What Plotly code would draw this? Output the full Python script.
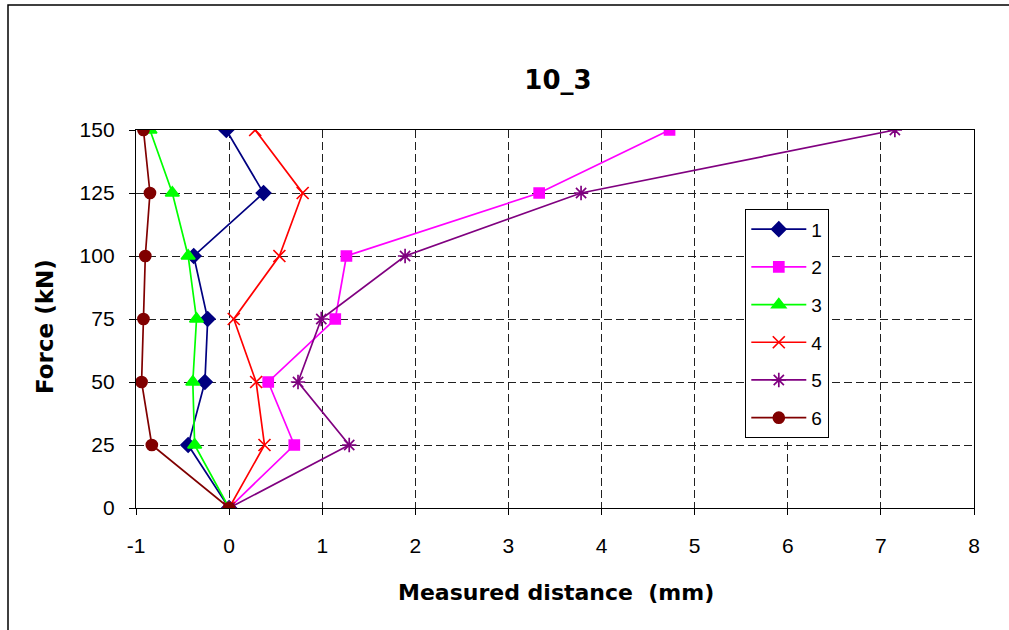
import plotly.graph_objects as go

force = [0, 25, 50, 75, 100, 125, 150]
s1 = [0, -0.44, -0.26, -0.23, -0.38, 0.37, -0.03]
s2 = [0, 0.70, 0.42, 1.14, 1.26, 3.33, 4.73]
s3 = [0, -0.37, -0.39, -0.35, -0.44, -0.61, -0.85]
s4 = [0, 0.38, 0.29, 0.05, 0.54, 0.79, 0.28]
s5 = [0, 1.29, 0.74, 0.99, 1.89, 3.78, 7.15]
s6 = [0, -0.83, -0.94, -0.92, -0.90, -0.85, -0.92]
names = ["1", "2", "3", "4", "5", "6"]
series = [s1, s2, s3, s4, s5, s6]
x_tickvals = [-1, 0, 1, 2, 3, 4, 5, 6, 7, 8]
x_ticktext = ["-1", "0", "1", "2", "3", "4", "5", "6", "7", "8"]
y_tickvals = [0, 25, 50, 75, 100, 125, 150]

colors = ["#000080", "#FF00FF", "#00FF00", "#FF0000", "#800080", "#800000"]
symbols = ["diamond", "square", "triangle-up", "x-thin-open", "asterisk-open", "circle"]
sizes = [11, 10, 12, 12, 12, 11]

W, H = 1009, 630
L, R, T, B = 136, 35, 130, 122
pw, ph = W - L - R, H - T - B

def px(x):
    return (x - L) / pw

def py(y):
    return (H - B - y) / ph

fig = go.Figure()
for i, (nm, s) in enumerate(zip(names, series)):
    fig.add_trace(go.Scatter(
        x=s, y=force, name=nm, mode="lines+markers",
        line=dict(color=colors[i], width=1.7),
        marker=dict(symbol=symbols[i], size=sizes[i], color=colors[i],
                    line=dict(color=colors[i], width=1.7)),
        legendgroup=nm,
    ))

axis_common = dict(
    showline=True, linecolor="black", linewidth=1.3, mirror=True,
    showgrid=True, gridcolor="#202020", griddash="8px,4px", gridwidth=1,
    ticks="outside", ticklen=6, tickcolor="black",
    tickfont=dict(family="Liberation Sans, Arial", size=21, color="black"),
    zeroline=False,
)
fig.update_xaxes(range=[-1, 8], tickmode="array", tickvals=x_tickvals,
                 ticktext=x_ticktext, ticklabelstandoff=13, **axis_common)
fig.update_yaxes(range=[0, 150], tickmode="array", tickvals=y_tickvals,
                 ticklabelstandoff=10, **axis_common)

fig.update_layout(
    width=W, height=H,
    margin=dict(l=L, r=R, t=T, b=B, autoexpand=False),
    plot_bgcolor="white", paper_bgcolor="white",
    showlegend=True,
    legend=dict(
        x=px(745), y=py(209), xanchor="left", yanchor="top",
        bordercolor="black", borderwidth=1.3, bgcolor="white",
        font=dict(family="Liberation Sans, Arial", size=19, color="black"),
        tracegroupgap=10, itemwidth=55,
    ),
    title=dict(text="<b>10_3</b>", x=558 / W, xanchor="center",
               y=1 - 80 / H, yanchor="middle",
               font=dict(family="DejaVu Sans", size=26, color="black")),
    annotations=[
        dict(text="<b>Measured distance  (mm)</b>", x=px(556), y=py(592),
             xref="paper", yref="paper", xanchor="center", yanchor="middle",
             showarrow=False,
             font=dict(family="DejaVu Sans", size=22, color="black")),
        dict(text="<b>Force (kN)</b>", x=px(45), y=py(327), textangle=-90,
             xref="paper", yref="paper", xanchor="center", yanchor="middle",
             showarrow=False,
             font=dict(family="DejaVu Sans", size=23, color="black")),
    ],
    shapes=[dict(type="rect", xref="paper", yref="paper",
                 x0=px(8), x1=px(1030), y0=py(650), y1=py(5),
                 line=dict(color="black", width=1.5))],
)

fig.write_html("out.html")
